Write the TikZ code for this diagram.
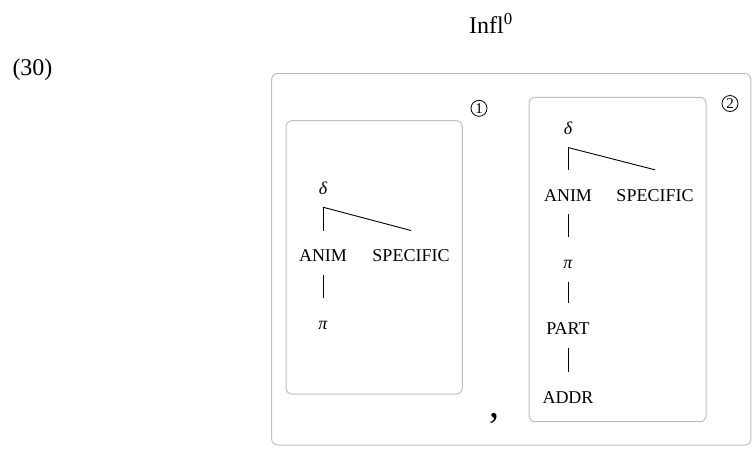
\documentclass[tikz,border=0pt]{standalone}
\usepackage{fontspec}
\setmainfont{Liberation Serif}
\definecolor{boxline}{RGB}{190,190,190}
\tikzstyle{feat}=[inner sep=0pt, text height=31pt, text depth=13pt, anchor=base, font=\fontsize{18}{20}\selectfont]
\tikzstyle{featbox}=[draw=boxline, line width=1pt, rounded corners=6pt]
\tikzstyle{num}=[circle, draw, line width=0.8pt, inner sep=0pt, minimum size=16pt, font=\fontsize{15}{16}\selectfont]
\tikzstyle{branch}=[line width=0.9pt]

\begin{document}
\begin{tikzpicture}[x=1pt,y=-1pt]
  \useasboundingbox (0,0) rectangle (752,451);
  \draw (32.5,75) node[anchor=base, inner sep=0pt, font=\fontsize{24}{26}\selectfont] (ex) {(30)};
  \draw (469,33.3) node[anchor=base west, inner sep=0pt, font=\fontsize{24}{26}\selectfont] (infl) {Infl\textsuperscript{0}};

  %% Boxes
  \draw[featbox] (271.7,73.5) rectangle (750.8,445);
  \draw[featbox] (286,120.7) rectangle (462.3,394);
  \draw[featbox] (529,97.3) rectangle (706,421.7);
  \draw (479,108.3) node[num] (n1) {1};
  \draw (730,103.5) node[num] (n2) {2};
  \draw (494,417) node[anchor=base, inner sep=0pt, font=\fontsize{40}{40}\selectfont] (comma) {,};

  %% First structure
  \draw (323,194) node[feat] (D1) {\itshape δ};
  \draw (323,261.7) node[feat] (A1) {ANIM};
  \draw (411,261.7) node[feat] (S1) {SPECIFIC};
  \draw (323,329) node[feat] (P1) {\itshape π};
  \draw[branch] (D1.south) -- (A1.north);
  \draw[branch] (D1.south) -- (S1.north);
  \draw[branch] (A1.south) -- (P1.north);

  %% Second structure
  \draw (568,134.3) node[feat] (D2) {\itshape δ};
  \draw (568,201) node[feat] (A2) {ANIM};
  \draw (655,201) node[feat] (S2) {SPECIFIC};
  \draw (568,268.3) node[feat] (P2) {\itshape π};
  \draw (568,334.3) node[feat] (T2) {PART};
  \draw (568,403.3) node[feat] (R2) {ADDR};
  \draw[branch] (D2.south) -- (A2.north);
  \draw[branch] (D2.south) -- (S2.north);
  \draw[branch] (A2.south) -- (P2.north);
  \draw[branch] (P2.south) -- (T2.north);
  \draw[branch] (T2.south) -- (R2.north);
\end{tikzpicture}
\end{document}
